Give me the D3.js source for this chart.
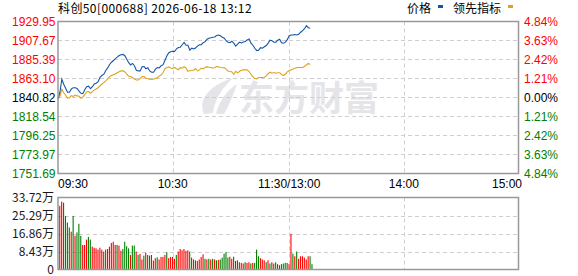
<!DOCTYPE html>
<html>
<head>
<meta charset="utf-8">
<script src="https://cdn.jsdelivr.net/npm/d3@7"></script>
<style>
	body { margin: 0; background: #fff; }
	svg text { font-family: Arial, "Liberation Sans", sans-serif; font-size: 12px; }
	svg text.cjk { font-family: "Noto Sans CJK SC", sans-serif; }
</style>
</head>
<body>
<svg id="chart" width="578" height="276"></svg>
<script>
// data
var title = '科创50[000688] 2026-06-18 13:12';
var preClose = 1840.82;
var priceTicks = [1929.95, 1907.67, 1885.39, 1863.10, 1840.82, 1818.54, 1796.25, 1773.97, 1751.69];
var pctTicks = ['4.84%', '3.63%', '2.42%', '1.21%', '0.00%', '1.21%', '2.42%', '3.63%', '4.84%'];
var volTicks = [33.72, 25.29, 16.86, 8.43, 0];
var timeLabels = ['09:30', '10:30', '11:30/13:00', '14:00', '15:00'];
var timeIndex = [0, 60, 121, 181, 241];

var price = [1838.8,1847.0,1862.3,1856.4,1851.7,1847.0,1847.0,1850.9,1852.3,1852.3,
	1851.4,1848.2,1845.8,1845.3,1849.9,1853.5,1854.1,1851.1,1853.5,1856.8,
	1857.6,1859.3,1864.6,1866.6,1868.1,1872.5,1875.5,1879.5,1882.2,1884.2,
	1886.5,1888.1,1890.1,1891.0,1891.4,1889.8,1885.7,1881.6,1879.0,1880.8,
	1878.1,1872.8,1872.0,1872.0,1876.9,1877.2,1874.6,1875.8,1872.0,1870.5,
	1870.5,1874.0,1876.0,1875.5,1878.1,1879.3,1884.6,1889.8,1893.3,1894.5,
	1895.1,1894.8,1897.8,1899.4,1899.8,1902.7,1905.4,1902.1,1902.1,1896.3,
	1898.6,1897.8,1898.9,1901.0,1902.7,1902.7,1905.1,1906.3,1909.2,1910.4,
	1910.9,1911.5,1911.8,1913.5,1914.1,1913.3,1911.5,1910.4,1907.4,1905.7,
	1905.1,1906.8,1904.5,1901.0,1903.3,1905.7,1904.8,1906.0,1906.5,1908.4,
	1909.5,1904.5,1902.1,1898.6,1895.7,1896.3,1899.2,1898.6,1900.4,1901.8,
	1904.5,1908.0,1907.4,1905.7,1905.7,1908.0,1909.2,1905.1,1904.5,1905.7,
	1908.6,1913.3,1914.2,1914.2,1914.7,1914.2,1915.0,1917.4,1919.2,1921.5,
	1925.0,1922.7,1922.1];

var lead = [1838.8,1842.3,1850.5,1846.4,1843.5,1840.0,1840.6,1842.9,1842.0,1843.5,
	1842.7,1842.3,1840.0,1841.2,1844.1,1847.6,1847.8,1845.8,1847.8,1849.7,
	1850.9,1852.3,1854.6,1856.6,1858.2,1860.3,1862.6,1865.2,1866.6,1867.5,
	1868.4,1869.9,1871.1,1872.0,1872.0,1870.8,1868.1,1865.8,1865.4,1864.3,
	1862.6,1861.4,1861.4,1862.9,1865.4,1865.4,1863.4,1863.1,1861.9,1862.3,
	1862.3,1863.4,1863.8,1865.8,1867.3,1870.1,1874.6,1876.0,1876.7,1875.5,
	1874.8,1876.0,1874.6,1873.4,1875.8,1875.2,1876.9,1875.2,1871.6,1872.2,
	1872.8,1872.8,1874.8,1872.0,1873.2,1875.2,1874.3,1876.3,1876.7,1876.3,
	1876.0,1875.2,1876.0,1877.2,1876.9,1876.0,1875.8,1876.0,1874.0,1871.6,
	1871.6,1870.8,1868.1,1871.6,1869.7,1871.6,1872.8,1873.2,1873.2,1873.2,
	1871.3,1867.8,1865.0,1863.1,1862.6,1864.3,1864.3,1864.3,1864.6,1866.1,
	1869.0,1870.5,1869.3,1870.1,1869.3,1869.9,1869.9,1867.8,1866.6,1868.1,
	1870.8,1872.5,1873.2,1874.3,1875.2,1876.0,1876.0,1876.0,1876.0,1877.2,
	1879.0,1880.7,1879.5];

// volume in 万
var volume = [29.8,31.8,31.3,25.1,22.0,19.7,17.7,25.1,15.8,17.4,
	21.4,15.8,11.5,11.5,14.0,15.3,14.0,10.7,10.2,9.9,
	9.3,10.2,9.3,8.4,9.3,9.6,10.7,12.4,13.0,11.5,
	11.5,11.2,8.8,9.6,13.0,10.9,9.9,6.8,11.2,11.2,
	8.4,6.8,7.3,4.7,6.5,7.8,6.8,6.5,6.8,4.2,
	5.3,5.7,4.7,5.9,5.9,6.8,8.1,5.3,5.9,5.9,
	5.0,6.8,8.4,9.6,9.0,9.6,8.7,9.0,8.4,5.6,
	4.7,4.3,4.0,4.7,5.9,7.1,5.0,4.7,5.0,4.7,
	5.0,4.7,4.3,4.5,4.7,5.6,7.4,8.1,5.6,6.0,
	5.0,6.0,4.0,4.3,3.4,3.1,2.8,3.4,3.1,3.4,
	2.8,3.1,3.1,9.3,6.2,5.3,4.7,4.3,3.4,4.3,
	2.8,3.4,2.8,3.4,2.5,2.0,2.5,2.8,3.1,3.1,
	2.5,16.7,7.4,6.2,8.4,5.0,6.2,6.2,5.6,4.7,
	6.2,6.2,2.5];

// 1 = red (up), 0 = green (down)
var volUp = [1,1,0,0,0,0,1,0,1,0,
	0,0,1,1,1,0,0,1,1,1,
	1,1,1,0,1,1,1,1,1,1,
	0,1,1,0,0,0,0,1,0,0,
	1,0,1,1,0,1,0,0,1,1,
	1,0,1,1,1,1,0,1,1,1,
	1,0,1,1,1,1,1,1,0,1,
	0,0,1,1,1,1,0,1,0,1,
	0,1,0,1,0,0,0,0,0,1,
	1,0,1,1,0,1,1,0,1,1,
	0,1,0,0,0,1,1,1,0,1,
	0,1,0,0,1,0,0,0,0,0,
	1,1,0,1,0,1,1,1,1,1,
	1,0,0];

var colors = { up: '#ff0000', down: '#008000', flat: '#000', price: '#1455a6', lead: '#e0a21c',
	frame: '#999', grid: '#cfcfcf', mark: '#e5e5e9' };

var svg = d3.select('#chart');

var left = 58, right = 518.5;
var x = d3.scaleLinear().domain([0, 241]).range([left, right]);
var y = d3.scaleLinear().domain([priceTicks[8], priceTicks[0]]).range([173.5, 21.5]);
var yv = d3.scaleLinear().domain([0, volTicks[0]]).range([269.5, 197.5]);

function tickColor(i, mid) {
	return i < mid ? colors.up : (i === mid ? colors.flat : colors.down);
}

// watermark
var wm = svg.append('g');
wm.append('path')
	.attr('d', 'M204,114 C198,100 208,86 233,78 C222,88 215,99 213,113 Z')
	.attr('fill', colors.mark);
wm.append('path')
	.attr('d', 'M216,114 C219,101 226,91 237,84 C233,96 229,105 224,114 Z')
	.attr('fill', colors.mark);
wm.append('text')
	.attr('class', 'cjk')
	.attr('x', 239).attr('y', 111)
	.style('font-size', '35px').style('font-weight', 'bold')
	.attr('fill', colors.mark)
	.text('东方财富');

// grid - price
var grid = svg.append('g')
	.attr('stroke', colors.grid)
	.attr('stroke-dasharray', '4,3');
grid.selectAll('.hg').data(priceTicks.slice(1, 8)).enter().append('line')
	.attr('x1', left).attr('x2', right)
	.attr('y1', d => y(d)).attr('y2', d => y(d));
grid.selectAll('.vg').data(timeIndex.slice(1, 4)).enter().append('line')
	.attr('x1', d => Math.round(x(d)) + 0.5).attr('x2', d => Math.round(x(d)) + 0.5)
	.attr('y1', y.range()[1]).attr('y2', y.range()[0]);

// grid - volume
grid.selectAll('.hv').data(volTicks.slice(1, 4)).enter().append('line')
	.attr('x1', left).attr('x2', right)
	.attr('y1', d => Math.round(yv(d)) + 0.5).attr('y2', d => Math.round(yv(d)) + 0.5);
grid.selectAll('.vv').data(timeIndex.slice(1, 4)).enter().append('line')
	.attr('x1', d => Math.round(x(d)) + 0.5).attr('x2', d => Math.round(x(d)) + 0.5)
	.attr('y1', yv.range()[1]).attr('y2', yv.range()[0]);

// lines
var line = d3.line().x((d, i) => x(i)).y(d => y(d));
svg.append('path').datum(lead)
	.attr('d', line).attr('fill', 'none')
	.attr('stroke', colors.lead).attr('stroke-width', 1.1);
svg.append('path').datum(price)
	.attr('d', line).attr('fill', 'none')
	.attr('stroke', colors.price).attr('stroke-width', 1.1);

// volume bars
svg.append('g').selectAll('rect').data(volume).enter().append('rect')
	.attr('x', (d, i) => x(i) + 1.2)
	.attr('width', 1.1)
	.attr('y', d => yv(d))
	.attr('height', d => yv(0) - yv(d))
	.attr('fill', (d, i) => volUp[i] ? colors.up : colors.down);

// frames
svg.append('rect')
	.attr('x', left).attr('y', y.range()[1])
	.attr('width', right - left).attr('height', y.range()[0] - y.range()[1])
	.attr('fill', 'none').attr('stroke', colors.frame).attr('stroke-width', 1.5);
svg.append('rect')
	.attr('x', left).attr('y', yv.range()[1])
	.attr('width', right - left).attr('height', yv.range()[0] - yv.range()[1])
	.attr('fill', 'none').attr('stroke', colors.frame).attr('stroke-width', 1.5);

// left price labels
svg.append('g').selectAll('text').data(priceTicks).enter().append('text')
	.attr('x', 55.5).attr('y', d => y(d) + 4.5)
	.attr('text-anchor', 'end')
	.attr('fill', (d, i) => tickColor(i, 4))
	.text(d => d.toFixed(2));

// right pct labels
svg.append('g').selectAll('text').data(pctTicks).enter().append('text')
	.attr('x', 524).attr('y', (d, i) => y(priceTicks[i]) + 4.5)
	.attr('fill', (d, i) => tickColor(i, 4))
	.text(d => d);

// time labels
svg.append('g').selectAll('text').data(timeLabels).enter().append('text')
	.attr('x', (d, i) => i === 0 ? left : (i === 4 ? 522 : x(timeIndex[i])))
	.attr('y', 188)
	.attr('text-anchor', (d, i) => i === 0 ? 'start' : (i === 4 ? 'end' : 'middle'))
	.attr('fill', '#000')
	.text(d => d);

// volume labels
svg.append('g').selectAll('text').data(volTicks).enter().append('text')
	.attr('class', 'cjk')
	.attr('x', 54).attr('y', d => yv(d) + 4.5)
	.attr('text-anchor', 'end')
	.attr('fill', '#1a1a1a')
	.text(d => d === 0 ? '0' : d.toFixed(2) + '万');

// title and legend
svg.append('text').attr('class', 'cjk')
	.attr('x', 58).attr('y', 13).attr('fill', '#000')
	.style('letter-spacing', '0.4px')
	.text(title);

var legend = [{ name: '价格', x: 407, color: colors.price, mx: 438 },
	{ name: '领先指标', x: 453, color: colors.lead, mx: 508 }];
var lg = svg.append('g');
lg.selectAll('text').data(legend).enter().append('text')
	.attr('class', 'cjk')
	.attr('x', d => d.x).attr('y', 13).attr('fill', '#000')
	.text(d => d.name);
lg.selectAll('rect').data(legend).enter().append('rect')
	.attr('x', d => d.mx).attr('y', 5).attr('width', 5).attr('height', 3)
	.attr('fill', d => d.color);
</script>
</body>
</html>
